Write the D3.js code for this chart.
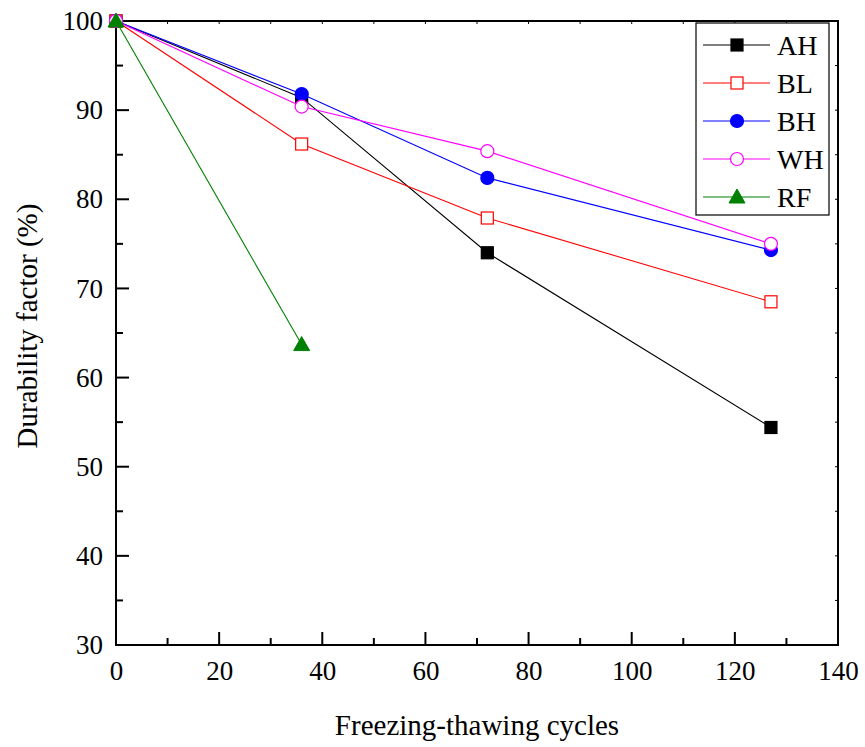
<!DOCTYPE html>
<html>
<head>
<meta charset="utf-8">
<script src="https://cdn.jsdelivr.net/npm/d3@7"></script>
<style>
  body { margin: 0; background: #fff; }
  text { font-family: "Liberation Serif", "Times New Roman", serif; fill: #000; }
</style>
</head>
<body>
<svg id="chart" width="865" height="747"></svg>
<script>
// data
var seriesNames = ['AH', 'BL', 'BH', 'WH', 'RF'];
var seriesColors = ['#000000', '#ff0000', '#0000ff', '#ff00ff', '#008000'];
var seriesShapes = ['squareFilled', 'squareOpen', 'circleFilled', 'circleOpen', 'triangleFilled'];
var cyclesAH = [0, 36, 72, 127];
var valuesAH = [100, 91.4, 74.0, 54.4];
var cyclesBL = [0, 36, 72, 127];
var valuesBL = [100, 86.2, 77.9, 68.5];
var cyclesBH = [0, 36, 72, 127];
var valuesBH = [100, 91.8, 82.4, 74.3];
var cyclesWH = [0, 36, 72, 127];
var valuesWH = [100, 90.4, 85.4, 75.0];
var cyclesRF = [0, 36];
var valuesRF = [100, 63.7];
var xTicks = [0, 20, 40, 60, 80, 100, 120, 140];
var yTicks = [30, 40, 50, 60, 70, 80, 90, 100];

(function () {
	var svg = d3.select('#chart');
	var left = 116, right = 838, top = 21, bottom = 645;

	var x = d3.scaleLinear().domain([0, 140]).range([left, right]);
	var y = d3.scaleLinear().domain([30, 100]).range([bottom, top]);

	var allX = [cyclesAH, cyclesBL, cyclesBH, cyclesWH, cyclesRF];
	var allY = [valuesAH, valuesBL, valuesBH, valuesWH, valuesRF];
	var series = seriesNames.map(function (name, i) {
		return {
			name: name,
			color: seriesColors[i],
			shape: seriesShapes[i],
			points: allX[i].map(function (c, j) { return {x: c, y: allY[i][j]}; })
		};
	});

	// frame
	svg.append('rect')
		.attr('x', left).attr('y', top)
		.attr('width', right - left).attr('height', bottom - top)
		.attr('fill', 'none').attr('stroke', '#000').attr('stroke-width', 2);

	// bottom axis
	var xAxis = d3.axisBottom(x).tickValues(xTicks).tickSize(0).tickPadding(16);
	var gx = svg.append('g').attr('transform', 'translate(0,' + bottom + ')').call(xAxis);
	gx.select('.domain').remove();
	gx.selectAll('text').style('font-size', '27px');

	// left axis
	var yAxis = d3.axisLeft(y).tickValues(yTicks).tickSize(0).tickPadding(13);
	var gy = svg.append('g').attr('transform', 'translate(' + left + ',0)').call(yAxis);
	gy.select('.domain').remove();
	gy.selectAll('text').style('font-size', '27px');

	// inward ticks, major and minor
	var tickG = svg.append('g').attr('stroke', '#000').attr('stroke-width', 2);
	d3.range(0, 141, 10).forEach(function (v) {
		var len = v % 20 === 0 ? 13 : 7;
		tickG.append('line').attr('x1', x(v)).attr('x2', x(v))
			.attr('y1', bottom).attr('y2', bottom - len);
		tickG.append('line').attr('x1', x(v)).attr('x2', x(v))
			.attr('y1', top).attr('y2', top + 3).attr('stroke-width', 1);
	});
	d3.range(30, 101, 5).forEach(function (v) {
		var len = v % 10 === 0 ? 13 : 7;
		tickG.append('line').attr('x1', left).attr('x2', left + len)
			.attr('y1', y(v)).attr('y2', y(v));
		tickG.append('line').attr('x1', right).attr('x2', right - 3)
			.attr('y1', y(v)).attr('y2', y(v)).attr('stroke-width', 1);
	});

	// axis titles
	svg.append('text')
		.attr('x', (left + right) / 2).attr('y', 735)
		.attr('text-anchor', 'middle').style('font-size', '29px')
		.text('Freezing-thawing cycles');
	svg.append('text')
		.attr('transform', 'translate(37,326) rotate(-90)')
		.attr('text-anchor', 'middle').style('font-size', '29px')
		.text('Durability factor (%)');

	function drawMarker(g, shape, color, cx, cy) {
		if (shape === 'squareFilled' || shape === 'squareOpen') {
			g.append('rect')
				.attr('x', cx - 6).attr('y', cy - 6).attr('width', 12).attr('height', 12)
				.attr('fill', shape === 'squareFilled' ? color : '#fff')
				.attr('stroke', color).attr('stroke-width', 1.2);
		} else if (shape === 'circleFilled' || shape === 'circleOpen') {
			g.append('circle')
				.attr('cx', cx).attr('cy', cy).attr('r', 6.5)
				.attr('fill', shape === 'circleFilled' ? color : '#fff')
				.attr('stroke', color).attr('stroke-width', 1.2);
		} else {
			g.append('path')
				.attr('d', 'M' + cx + ',' + (cy - 8) + 'L' + (cx + 8) + ',' + (cy + 6) + 'L' + (cx - 8) + ',' + (cy + 6) + 'Z')
				.attr('fill', color).attr('stroke', color);
		}
	}

	var line = d3.line().x(function (d) { return x(d.x); }).y(function (d) { return y(d.y); });

	series.forEach(function (s) {
		var g = svg.append('g');
		g.append('path').datum(s.points)
			.attr('d', line).attr('fill', 'none')
			.attr('stroke', s.color).attr('stroke-width', 1.1);
		s.points.forEach(function (p) {
			drawMarker(g, s.shape, s.color, x(p.x), y(p.y));
		});
	});

	// legend
	var lg = svg.append('g');
	lg.append('rect')
		.attr('x', 696).attr('y', 23).attr('width', 133).attr('height', 192)
		.attr('fill', '#fff').attr('stroke', '#000').attr('stroke-width', 1.2);
	series.forEach(function (s, i) {
		var ly = 45 + i * 38;
		lg.append('line').attr('x1', 703).attr('x2', 770).attr('y1', ly).attr('y2', ly)
			.attr('stroke', s.color).attr('stroke-width', 1.1);
		drawMarker(lg, s.shape, s.color, 737, ly);
		lg.append('text').attr('x', 777).attr('y', ly + 10)
			.style('font-size', '28px').text(s.name);
	});
}());
</script>
</body>
</html>
